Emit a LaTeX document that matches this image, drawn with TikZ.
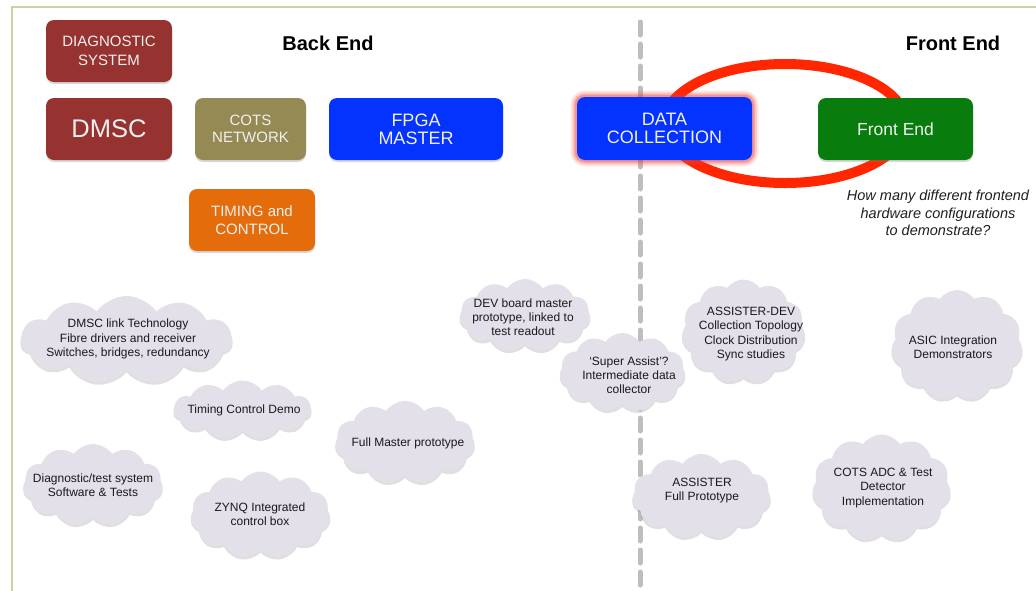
\documentclass[tikz,border=0pt]{standalone}
\usepackage{fontspec}
\setmainfont{Liberation Sans}
\usetikzlibrary{shapes.symbols,shadows}
\definecolor{frameg}{RGB}{200,212,165}
\definecolor{dred}{RGB}{150,50,48}
\definecolor{olive}{RGB}{150,138,84}
\definecolor{vblue}{RGB}{4,51,255}
\definecolor{orng}{RGB}{228,108,10}
\definecolor{dgreen}{RGB}{8,124,12}
\definecolor{cloudfill}{RGB}{227,224,234}
\definecolor{ringred}{RGB}{255,38,0}
\definecolor{glowred}{RGB}{235,60,50}
\definecolor{dashgray}{RGB}{190,190,190}
\begin{document}
\begin{tikzpicture}[x=1pt,y=-1pt,
  box/.style={rounded corners=8pt, fill=#1, text=white!94!black, align=center,
    inner sep=0pt, drop shadow={opacity=0.3,shadow xshift=0pt,shadow yshift=-2pt}},
  boxfont/.style={font=\fontsize{#1}{18}\selectfont},
  cloudy/.style={cloud, cloud puffs=11, cloud puff arc=110, cloud ignores aspect,
    fill=cloudfill, draw=none, inner sep=0pt,
    drop shadow={opacity=0.25,shadow xshift=0pt,shadow yshift=-2.5pt}},
  cloudtext/.style={align=center, inner sep=0pt, font=\fontsize{12}{14.2}\selectfont, text=black!90},
  heading/.style={font=\bfseries\fontsize{20}{24}\selectfont, text=black}
]
\useasboundingbox (0,0) rectangle (1036,590);
\fill[white] (0,0) rectangle (1036,590);

% frame
\coordinate (fbl) at (12,591);
\coordinate (ftl) at (12,7);
\coordinate (ftr) at (1037,7);
\draw[frameg, line width=2pt] (fbl) -- (ftl) -- (ftr);

% dashed divider
\coordinate (dtop) at (640,22);
\coordinate (dbot) at (640,592);
\draw[dashgray, line width=5pt, line cap=round, dash pattern=on 13pt off 9pt] (dtop) -- (dbot);

% headings
\node[heading] (backend) at (328,43) {Back End};
\node[heading] (frontendh) at (953,43) {Front End};

% red ring
\draw[ringred, line width=10pt] (785,123.5) ellipse [x radius=121pt, y radius=59.5pt];

% boxes
\node[box=dred, boxfont=15, minimum width=126pt, minimum height=62pt] (diag) at (109,51) {DIAGNOSTIC\\[1pt]SYSTEM};
\node[box=dred, font=\fontsize{25.5}{28}\selectfont, minimum width=126pt, minimum height=62pt] (dmsc) at (109,129) {DMSC};
\node[box=olive, boxfont=15, minimum width=111pt, minimum height=62pt] (cots) at (250.5,129) {COTS\\[-1pt]NETWORK};
\node[box=vblue, boxfont=18, minimum width=174pt, minimum height=62pt] (fpga) at (416,129) {FPGA\\MASTER};
\node[box=orng, boxfont=15, minimum width=126pt, minimum height=62pt] (timing) at (252,220) {TIMING and\\CONTROL};
\node[rounded corners=8pt, fill=vblue, text=white!94!black, align=center, inner sep=0pt,
  boxfont=18, minimum width=175pt, minimum height=63pt,
  preaction={draw=glowred, line width=13pt, opacity=0.12},
  preaction={draw=glowred, line width=9pt, opacity=0.2},
  preaction={draw=glowred, line width=5pt, opacity=0.35}] (datacol) at (664.5,128.5) {DATA\\COLLECTION};
\node[box=dgreen, font=\fontsize{17.5}{20}\selectfont, minimum width=155pt, minimum height=62pt] (febox) at (895.5,129) {Front End};

% question
\node[font=\itshape\fontsize{14.5}{17.5}\selectfont, text=black!88, align=center] (quest) at (938,213) {How many different frontend\\hardware configurations\\to demonstrate?};

% clouds, back end
\node[cloudy, minimum width=212pt, minimum height=88pt] (c1) at (126.5,340) {};
\node[cloudtext] (t1) at (128,339) {DMSC link Technology\\Fibre drivers and receiver\\Switches, bridges, redundancy};
\node[cloudy, minimum width=138pt, minimum height=59pt] (c2) at (242.5,410) {};
\node[cloudtext] (t2) at (244,410) {Timing Control Demo};
\node[cloudy, minimum width=140pt, minimum height=82pt] (c3) at (93,485) {};
\node[cloudtext] (t3) at (93,485) {Diagnostic/test system\\Software \& Tests};
\node[cloudy, minimum width=140pt, minimum height=87pt] (c4) at (260.5,515) {};
\node[cloudtext] (t4) at (260,514.5) {ZYNQ Integrated\\control box};
\node[cloudy, minimum width=140pt, minimum height=83pt] (c5) at (405,442.5) {};
\node[cloudtext] (t5) at (408,443) {Full Master prototype};
\node[cloudy, minimum width=131pt, minimum height=73pt] (c6) at (525,315.5) {};
\node[cloudtext] (t6) at (523,317) {DEV board master\\prototype, linked to\\test readout};
\node[cloudy, minimum width=126pt, minimum height=79pt] (c7) at (622.5,372.5) {};
\node[cloudtext] (t7) at (629,375) {`Super Assist'?\\Intermediate data\\collector};
% clouds, front end
\node[cloudy, minimum width=124pt, minimum height=104pt] (c8) at (743.5,331.5) {};
\node[cloudtext] (t8) at (751,334) {ASSISTER-DEV\\Collection Topology\\Clock Distribution\\Sync studies};
\node[cloudy, minimum width=132pt, minimum height=111pt] (c9) at (957,345.5) {};
\node[cloudtext] (t9) at (953,347) {ASIC Integration\\Demonstrators};
\node[cloudy, minimum width=139pt, minimum height=85pt] (c10) at (701.5,496.5) {};
\node[cloudtext] (t10) at (702,490.5) {ASSISTER\\Full Prototype};
\node[cloudy, minimum width=139pt, minimum height=107pt] (c11) at (881.5,488) {};
\node[cloudtext] (t11) at (883,488) {COTS ADC \& Test\\Detector\\Implementation};
\end{tikzpicture}
\end{document}
